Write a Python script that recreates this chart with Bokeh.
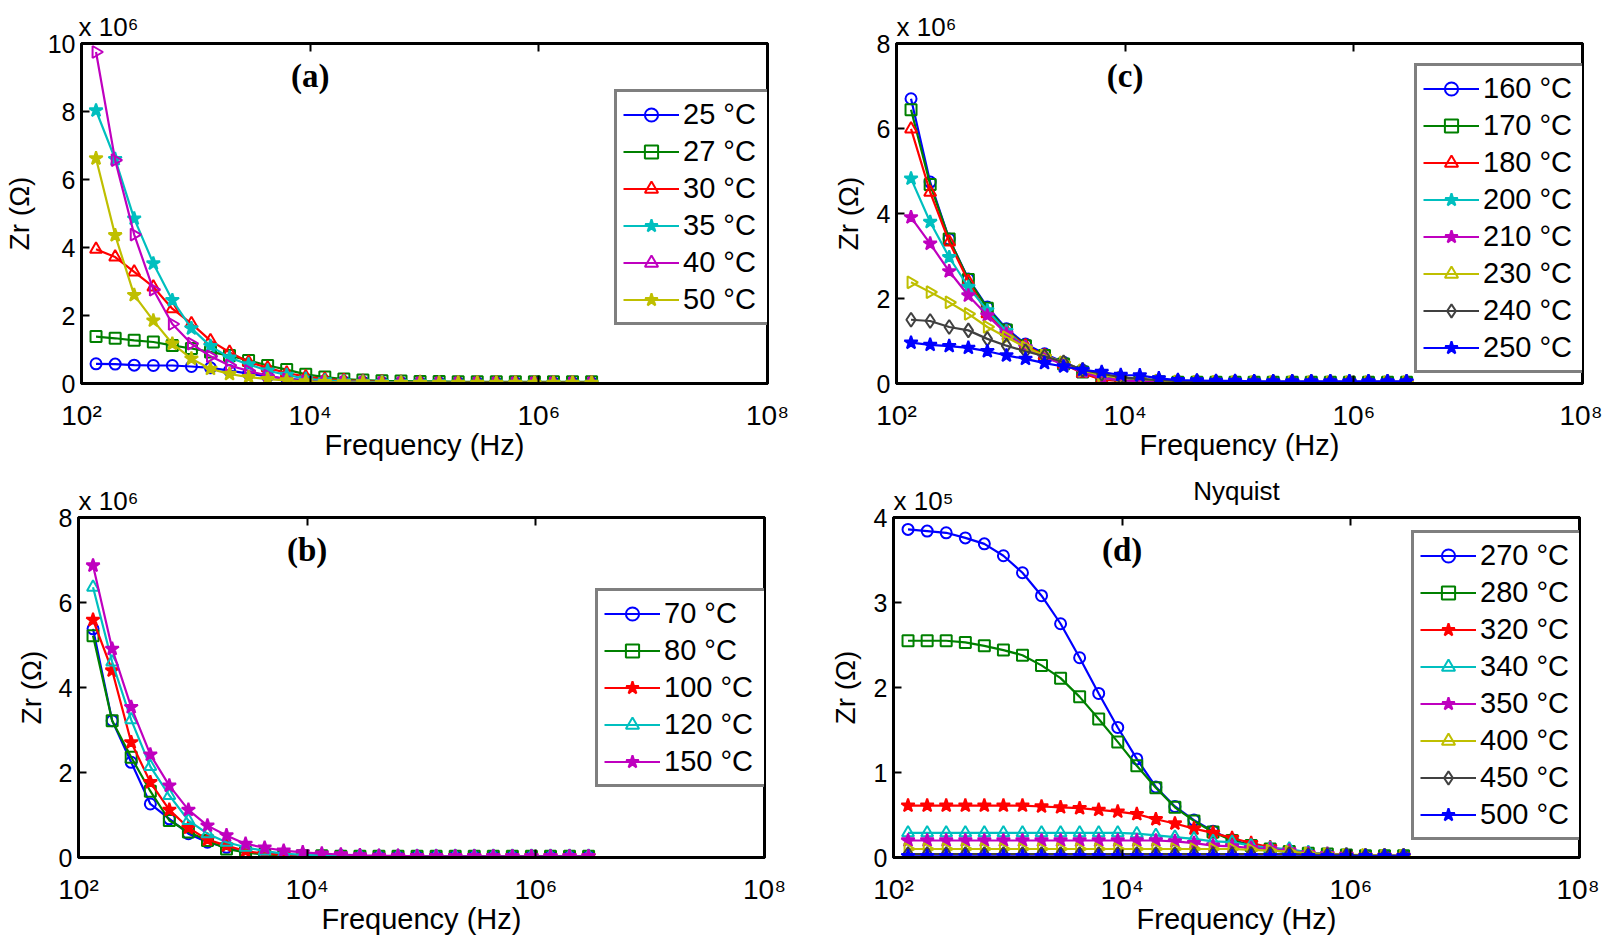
import numpy as np
from bokeh.plotting import figure
from bokeh.models import Range1d, FixedTicker, LinearAxis, LogAxis, Label, Legend, LegendItem
from bokeh.layouts import column, row
from bokeh.embed import file_html
from bokeh.resources import INLINE

SANS = "Liberation Sans"
SERIF = "Liberation Serif"

# ---------------- data ----------------
freq_hz = [134, 197, 289, 425, 623, 915, 1343, 1971, 2893, 4246, 6233, 9149, 13430, 19710,
           28930, 42460, 62330, 91490, 134300, 197100, 289300, 424600, 623300, 914900,
           1343000, 1971000, 2893000]

x_tick_values = [100, 10000, 1000000, 100000000]
x_tick_labels = ["10²", "10⁴", "10⁶", "10⁸"]

# panel (a), Zr x 10^6 ohm
a_labels = ["25 °C", "27 °C", "30 °C", "35 °C", "40 °C", "50 °C"]
a_25 = [0.58, 0.57, 0.54, 0.53, 0.53, 0.50, 0.46, 0.38, 0.29, 0.21, 0.14, 0.10, 0.07, 0.05,
        0.04, 0.03, 0.03, 0.02, 0.02, 0.02, 0.02, 0.02, 0.02, 0.02, 0.02, 0.02, 0.02]
a_27 = [1.38, 1.33, 1.27, 1.22, 1.12, 1.03, 0.93, 0.82, 0.68, 0.53, 0.41, 0.27, 0.19, 0.13,
        0.10, 0.08, 0.07, 0.06, 0.06, 0.05, 0.05, 0.05, 0.05, 0.05, 0.05, 0.05, 0.05]
a_30 = [3.95, 3.72, 3.28, 2.84, 2.20, 1.76, 1.26, 0.92, 0.63, 0.46, 0.31, 0.20, 0.13, 0.09,
        0.07, 0.05, 0.04, 0.04, 0.03, 0.03, 0.03, 0.03, 0.03, 0.03, 0.03, 0.03, 0.03]
a_35 = [8.03, 6.60, 4.85, 3.53, 2.45, 1.62, 1.10, 0.76, 0.56, 0.38, 0.25, 0.14, 0.09, 0.06,
        0.05, 0.04, 0.03, 0.03, 0.03, 0.02, 0.02, 0.02, 0.02, 0.02, 0.02, 0.02, 0.02]
a_40 = [9.75, 6.57, 4.38, 2.76, 1.75, 1.17, 0.80, 0.53, 0.37, 0.23, 0.12, 0.06, 0.04, 0.03,
        0.02, 0.02, 0.01, 0.01, 0.01, 0.01, 0.01, 0.01, 0.01, 0.01, 0.01, 0.01, 0.01]
a_50 = [6.62, 4.36, 2.60, 1.85, 1.17, 0.73, 0.43, 0.28, 0.19, 0.13, 0.09, 0.06, 0.04, 0.03,
        0.03, 0.02, 0.02, 0.02, 0.02, 0.02, 0.02, 0.02, 0.02, 0.02, 0.02, 0.02, 0.02]

# panel (b), Zr x 10^6 ohm
b_labels = ["70 °C", "80 °C", "100 °C", "120 °C", "150 °C"]
b_70 = [5.38, 3.22, 2.24, 1.26, 0.91, 0.56, 0.36, 0.24, 0.12, 0.09, 0.06, 0.05, 0.04, 0.04,
        0.03, 0.03, 0.03, 0.03, 0.03, 0.03, 0.03, 0.03, 0.03, 0.03, 0.03, 0.03, 0.03]
b_80 = [5.22, 3.22, 2.36, 1.56, 0.87, 0.60, 0.40, 0.20, 0.12, 0.07, 0.05, 0.04, 0.04, 0.03,
        0.03, 0.03, 0.03, 0.03, 0.03, 0.03, 0.03, 0.03, 0.03, 0.03, 0.03, 0.03, 0.03]
b_100 = [5.59, 4.40, 2.71, 1.77, 1.12, 0.70, 0.42, 0.28, 0.15, 0.09, 0.06, 0.05, 0.04, 0.04,
         0.03, 0.03, 0.03, 0.03, 0.03, 0.03, 0.03, 0.03, 0.03, 0.03, 0.03, 0.03, 0.03]
b_120 = [6.36, 4.60, 3.24, 2.14, 1.46, 0.87, 0.56, 0.36, 0.24, 0.15, 0.09, 0.06, 0.05, 0.04,
         0.04, 0.03, 0.03, 0.03, 0.03, 0.03, 0.03, 0.03, 0.03, 0.03, 0.03, 0.03, 0.03]
b_150 = [6.87, 4.91, 3.54, 2.42, 1.69, 1.12, 0.75, 0.52, 0.32, 0.23, 0.16, 0.12, 0.09, 0.07,
         0.05, 0.04, 0.04, 0.03, 0.03, 0.03, 0.03, 0.03, 0.03, 0.03, 0.03, 0.03, 0.03]

# panel (c), Zr x 10^6 ohm
c_labels = ["160 °C", "170 °C", "180 °C", "200 °C", "210 °C", "230 °C", "240 °C", "250 °C"]
c_160 = [6.70, 4.74, 3.40, 2.46, 1.80, 1.29, 0.93, 0.70, 0.50, 0.31, 0.15, 0.11, 0.07, 0.05,
         0.04, 0.04, 0.03, 0.03, 0.03, 0.03, 0.03, 0.03, 0.03, 0.03, 0.03, 0.03, 0.03]
c_170 = [6.44, 4.68, 3.40, 2.45, 1.77, 1.26, 0.89, 0.66, 0.46, 0.27, 0.09, 0.07, 0.05, 0.04,
         0.03, 0.03, 0.03, 0.03, 0.03, 0.03, 0.03, 0.03, 0.03, 0.03, 0.03, 0.03, 0.03]
c_180 = [5.99, 4.50, 3.33, 2.40, 1.64, 1.23, 0.89, 0.66, 0.46, 0.24, 0.09, 0.06, 0.05, 0.04,
         0.03, 0.03, 0.03, 0.03, 0.03, 0.03, 0.03, 0.03, 0.03, 0.03, 0.03, 0.03, 0.03]
c_200 = [4.82, 3.80, 2.97, 2.27, 1.72, 1.23, 0.85, 0.62, 0.46, 0.29, 0.13, 0.08, 0.05, 0.04,
         0.04, 0.03, 0.03, 0.03, 0.03, 0.03, 0.03, 0.03, 0.03, 0.03, 0.03, 0.03, 0.03]
c_210 = [3.91, 3.29, 2.64, 2.07, 1.60, 1.17, 0.85, 0.62, 0.45, 0.28, 0.13, 0.08, 0.05, 0.04,
         0.04, 0.03, 0.03, 0.03, 0.03, 0.03, 0.03, 0.03, 0.03, 0.03, 0.03, 0.03, 0.03]
c_230 = [2.38, 2.15, 1.91, 1.64, 1.33, 1.09, 0.85, 0.66, 0.50, 0.31, 0.19, 0.13, 0.11, 0.07,
         0.05, 0.04, 0.04, 0.03, 0.03, 0.03, 0.03, 0.03, 0.03, 0.03, 0.03, 0.03, 0.03]
c_240 = [1.50, 1.47, 1.33, 1.25, 1.05, 0.89, 0.76, 0.64, 0.50, 0.32, 0.23, 0.15, 0.11, 0.08,
         0.06, 0.05, 0.04, 0.04, 0.04, 0.04, 0.04, 0.04, 0.04, 0.04, 0.04, 0.04, 0.04]
c_250 = [0.96, 0.91, 0.88, 0.84, 0.76, 0.66, 0.58, 0.48, 0.40, 0.32, 0.27, 0.20, 0.19, 0.12,
         0.08, 0.07, 0.06, 0.06, 0.05, 0.05, 0.05, 0.05, 0.05, 0.05, 0.05, 0.05, 0.05]

# panel (d), Zr x 10^5 ohm
d_labels = ["270 °C", "280 °C", "320 °C", "340 °C", "350 °C", "400 °C", "450 °C", "500 °C"]
d_270 = [3.86, 3.84, 3.82, 3.76, 3.69, 3.55, 3.35, 3.08, 2.75, 2.35, 1.93, 1.53, 1.16, 0.83,
         0.60, 0.44, 0.31, 0.21, 0.14, 0.09, 0.06, 0.04, 0.03, 0.02, 0.02, 0.02, 0.02]
d_280 = [2.55, 2.55, 2.55, 2.53, 2.49, 2.44, 2.38, 2.26, 2.11, 1.89, 1.63, 1.36, 1.08, 0.82,
         0.59, 0.43, 0.30, 0.20, 0.14, 0.10, 0.07, 0.05, 0.04, 0.03, 0.02, 0.02, 0.02]
d_320 = [0.61, 0.61, 0.61, 0.61, 0.61, 0.61, 0.61, 0.60, 0.59, 0.58, 0.56, 0.54, 0.51, 0.45,
         0.40, 0.34, 0.29, 0.23, 0.17, 0.12, 0.08, 0.05, 0.04, 0.03, 0.02, 0.02, 0.02]
d_340 = [0.29, 0.29, 0.29, 0.29, 0.29, 0.29, 0.29, 0.29, 0.29, 0.29, 0.29, 0.29, 0.28, 0.26,
         0.24, 0.22, 0.19, 0.18, 0.14, 0.11, 0.10, 0.06, 0.04, 0.03, 0.02, 0.02, 0.02]
d_350 = [0.20, 0.20, 0.20, 0.20, 0.20, 0.20, 0.20, 0.20, 0.20, 0.20, 0.20, 0.20, 0.20, 0.20,
         0.19, 0.17, 0.14, 0.13, 0.11, 0.10, 0.08, 0.05, 0.04, 0.03, 0.02, 0.02, 0.02]
d_400 = [0.10, 0.10, 0.10, 0.10, 0.10, 0.10, 0.10, 0.10, 0.10, 0.10, 0.10, 0.10, 0.10, 0.10,
         0.10, 0.10, 0.10, 0.10, 0.09, 0.08, 0.07, 0.05, 0.04, 0.03, 0.03, 0.02, 0.02]
d_450 = [0.04, 0.04, 0.04, 0.04, 0.04, 0.04, 0.04, 0.04, 0.04, 0.04, 0.04, 0.04, 0.04, 0.04,
         0.04, 0.04, 0.04, 0.04, 0.04, 0.04, 0.04, 0.03, 0.03, 0.03, 0.02, 0.02, 0.02]
d_500 = [0.015, 0.015, 0.015, 0.015, 0.015, 0.015, 0.015, 0.015, 0.015, 0.015, 0.015, 0.015,
         0.015, 0.015, 0.015, 0.015, 0.015, 0.015, 0.015, 0.015, 0.015, 0.015, 0.015, 0.015,
         0.015, 0.015, 0.015]

# ---------------- styles ----------------
BLUE, GREEN, RED = "#0000FF", "#008000", "#FF0000"
CYAN, MAGENTA, YELLOW, GRAY = "#00BFBF", "#BF00BF", "#BFBF00", "#404040"

# marker code -> (bokeh marker, filled, angle, size)
MARKERS = {
    "o": ("circle", False, 0.0, 11),
    "s": ("square", False, 0.0, 11),
    "^": ("triangle", False, 0.0, 12),
    ">": ("triangle", False, -np.pi / 2, 12),
    "p": ("star", True, 0.0, 14),
    "h": ("star", True, 0.0, 14),
    "d": ("diamond", False, 0.0, 14),
}

FW, FH = 686, 340
PAD, GW, STAND, RH, SP = 6, 56, 4, 33, 4
TOP_ROW_H = 43 + FH + 89  # canvas height of the upper panels


def make_panel(series, ymax, yticks, tag, leg_top, leg_lw, borders, ylab_standoff):
    left, right, top, bottom = borders
    p = figure(x_axis_type="log", x_range=Range1d(1e2, 1e8), y_range=Range1d(0, ymax),
               frame_width=FW, frame_height=FH,
               min_border_left=left, min_border_right=right,
               min_border_top=top, min_border_bottom=bottom,
               output_backend="svg", toolbar_location=None,
               background_fill_color="white", border_fill_color="white")
    p.xgrid.visible = False
    p.ygrid.visible = False
    p.outline_line_color = "black"
    p.outline_line_width = 3
    p.outline_line_alpha = 1

    xa = p.xaxis[0]
    xa.ticker = FixedTicker(ticks=x_tick_values)
    xa.major_label_overrides = dict(zip(x_tick_values, x_tick_labels))
    xa.major_label_text_font = SANS
    xa.major_label_text_font_size = "28px"
    xa.major_label_text_color = "black"
    xa.major_label_standoff = 16
    xa.major_tick_in = 8
    xa.major_tick_out = 0
    xa.minor_tick_line_color = None
    xa.major_tick_line_width = 2
    xa.axis_line_width = 3
    xa.axis_label = "Frequency (Hz)"
    xa.axis_label_text_font = SANS
    xa.axis_label_text_font_size = "29px"
    xa.axis_label_text_font_style = "normal"
    xa.axis_label_text_color = "black"
    xa.axis_label_standoff = -5

    ya = p.yaxis[0]
    ya.ticker = FixedTicker(ticks=yticks)
    ya.major_label_text_font = SANS
    ya.major_label_text_font_size = "25px"
    ya.major_label_text_color = "black"
    ya.major_label_standoff = 6
    ya.major_tick_in = 8
    ya.major_tick_out = 0
    ya.minor_tick_line_color = None
    ya.major_tick_line_width = 2
    ya.axis_line_width = 3
    ya.axis_label = "Zr (Ω)"
    ya.axis_label_text_font = SANS
    ya.axis_label_text_font_size = "28px"
    ya.axis_label_text_font_style = "normal"
    ya.axis_label_text_color = "black"
    ya.axis_label_standoff = ylab_standoff

    top_ax = LogAxis(ticker=FixedTicker(ticks=x_tick_values),
                     major_label_overrides={t: "" for t in x_tick_values},
                     major_label_text_font_size="1px",
                     major_label_standoff=0, major_tick_in=8, major_tick_out=0,
                     minor_tick_line_color=None, major_tick_line_width=2, axis_line_width=3)
    p.add_layout(top_ax, "above")
    right_ax = LinearAxis(ticker=FixedTicker(ticks=yticks),
                          major_label_overrides={t: "" for t in yticks},
                          major_label_text_font_size="1px",
                          major_label_standoff=0, major_tick_in=8, major_tick_out=0,
                          minor_tick_line_color=None, major_tick_line_width=2, axis_line_width=3)
    p.add_layout(right_ax, "right")

    items = []
    for label, values, color, mcode in series:
        mk, filled, ang, size = MARKERS[mcode]
        lr = p.line(freq_hz, values, line_color=color, line_width=2.2)
        sr = p.scatter(freq_hz, values, marker=mk, size=size, angle=ang,
                       line_color=color, line_width=2,
                       fill_color=color if filled else None)
        items.append(LegendItem(label=label, renderers=[lr, sr]))

    n = len(items)
    W = 2 * PAD + GW + STAND + leg_lw
    H = 2 * PAD + n * RH + (n - 1) * SP
    leg = Legend(items=items, location=(FW - W, FH - leg_top - H),
                 padding=PAD, spacing=SP, margin=0,
                 glyph_width=GW, glyph_height=RH, label_height=RH, label_width=leg_lw,
                 label_standoff=STAND,
                 label_text_font=SANS, label_text_font_size="29px", label_text_color="black",
                 border_line_color="black", border_line_width=3,
                 background_fill_color="white", background_fill_alpha=1)
    p.add_layout(leg)

    p.add_layout(Label(x=1e4, y=308, x_units="data", y_units="screen", text=tag,
                       text_font=SERIF, text_font_style="bold", text_font_size="33px",
                       text_color="black", text_align="center", text_baseline="middle"))
    return p


def side_label(p, place, text, x, y, size, align):
    # text positioned in canvas pixels (from the canvas top-left), hosted in a side panel
    p.add_layout(Label(x=x, y=y, x_units="canvas", y_units="canvas", text=text,
                       text_font=SANS, text_font_size=size, text_color="black",
                       text_align=align, text_baseline="middle"), place)


pa = make_panel(
    [(a_labels[0], a_25, BLUE, "o"), (a_labels[1], a_27, GREEN, "s"),
     (a_labels[2], a_30, RED, "^"), (a_labels[3], a_35, CYAN, "p"),
     (a_labels[4], a_40, MAGENTA, ">"), (a_labels[5], a_50, YELLOW, "h")],
    10, [0, 2, 4, 6, 8, 10], "(a)", 52, 81, (78, 44, 43, 89), 10)
side_label(pa, "above", "x 10⁶", 78, 26, "26px", "left")

pc = make_panel(
    [(c_labels[0], c_160, BLUE, "o"), (c_labels[1], c_170, GREEN, "s"),
     (c_labels[2], c_180, RED, "^"), (c_labels[3], c_200, CYAN, "p"),
     (c_labels[4], c_210, MAGENTA, "h"), (c_labels[5], c_230, YELLOW, ">"),
     (c_labels[6], c_240, GRAY, "d"), (c_labels[7], c_250, BLUE, "h")],
    8, [0, 2, 4, 6, 8], "(c)", 26, 96, (85, 20, 43, 89), 10)
side_label(pc, "above", "x 10⁶", 85, 26, "26px", "left")

bottom_top_border = 517 - TOP_ROW_H

pb = make_panel(
    [(b_labels[0], b_70, BLUE, "o"), (b_labels[1], b_80, GREEN, "s"),
     (b_labels[2], b_100, RED, "p"), (b_labels[3], b_120, CYAN, "^"),
     (b_labels[4], b_150, MAGENTA, "h")],
    8, [0, 2, 4, 6, 8], "(b)", 77, 97, (78, 44, bottom_top_border, 90), 9)
side_label(pb, "below", "x 10⁶", 78, 500 - TOP_ROW_H, "26px", "left")

pd_ = make_panel(
    [(d_labels[0], d_270, BLUE, "o"), (d_labels[1], d_280, GREEN, "s"),
     (d_labels[2], d_320, RED, "p"), (d_labels[3], d_340, CYAN, "^"),
     (d_labels[4], d_350, MAGENTA, "h"), (d_labels[5], d_400, YELLOW, ">"),
     (d_labels[6], d_450, GRAY, "d"), (d_labels[7], d_500, BLUE, "h")],
    4, [0, 1, 2, 3, 4], "(d)", 19, 96, (85, 20, bottom_top_border, 90), 10)
side_label(pd_, "below", "x 10⁵", 85, 500 - TOP_ROW_H, "26px", "left")
side_label(pd_, "below", "Nyquist", 85 + FW / 2, 490 - TOP_ROW_H, "26px", "center")

layout = column(row(pa, pc), row(pb, pd_))
open("out.html", "w").write(file_html(layout, INLINE))
